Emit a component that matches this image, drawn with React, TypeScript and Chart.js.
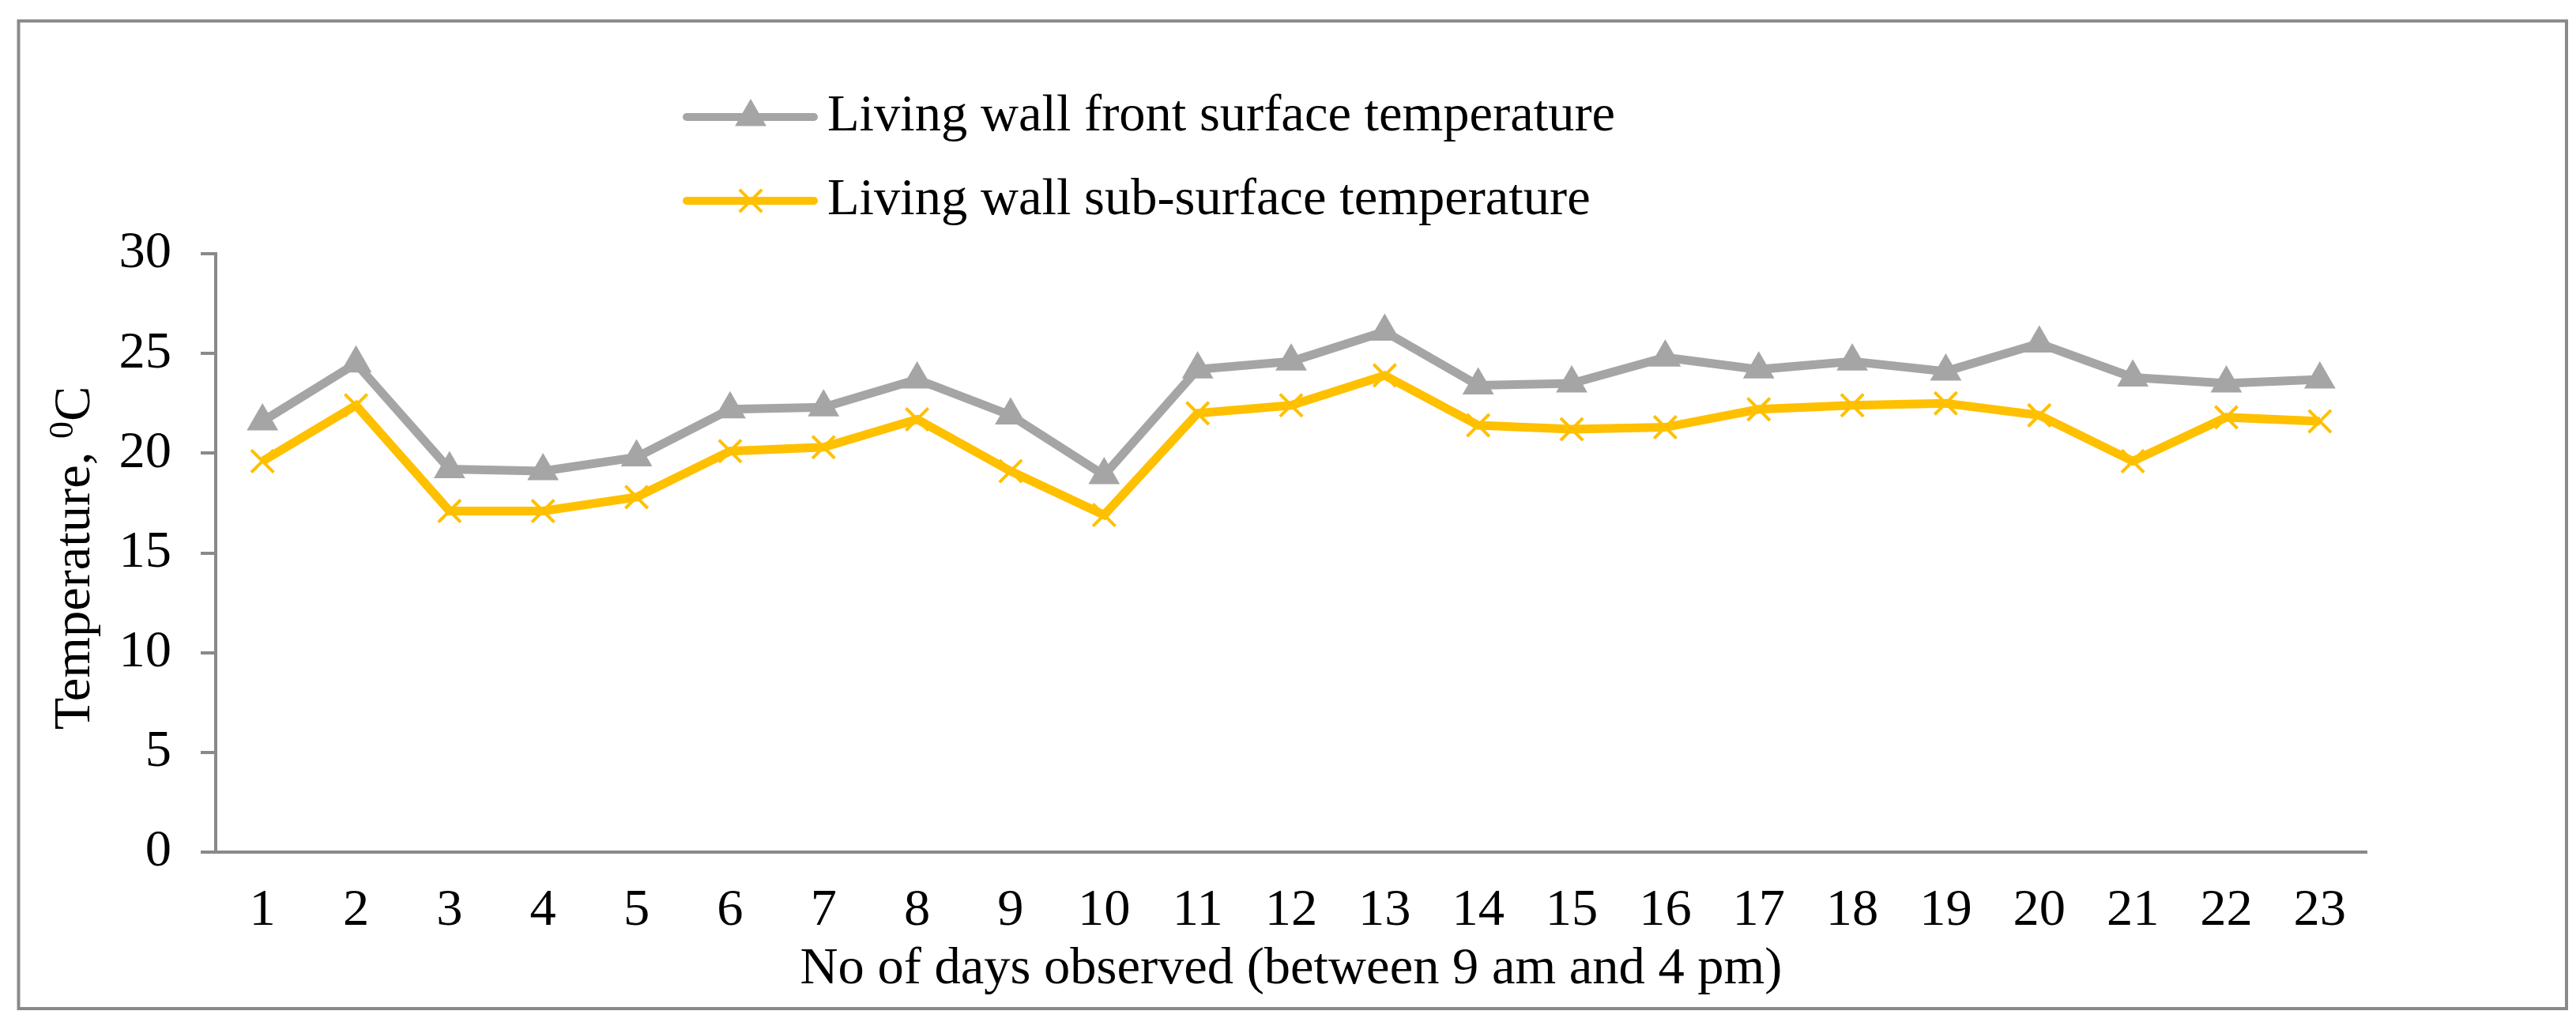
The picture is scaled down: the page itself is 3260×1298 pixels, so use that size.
import { useRef, useEffect } from "react";
import { Chart, registerables } from "chart.js";
import type { Plugin } from "chart.js";
import { drawPoint } from "chart.js/helpers";

Chart.register(...registerables);

// values
const days = [
  "1", "2", "3", "4", "5", "6", "7", "8", "9", "10", "11", "12",
  "13", "14", "15", "16", "17", "18", "19", "20", "21", "22", "23",
];
const frontSurface = [
  21.6, 24.5, 19.2, 19.1, 19.8, 22.2, 22.3, 23.7, 21.9, 18.9, 24.2, 24.6,
  26.1, 23.4, 23.5, 24.8, 24.2, 24.6, 24.1, 25.5, 23.8, 23.5, 23.7,
];
const subSurface = [
  19.6, 22.4, 17.1, 17.1, 17.8, 20.1, 20.3, 21.7, 19.1, 16.9, 22.0, 22.4,
  23.9, 21.4, 21.2, 21.3, 22.2, 22.4, 22.5, 21.9, 19.6, 21.8, 21.6,
];
const seriesNames = [
  "Living wall front surface temperature",
  "Living wall sub-surface temperature",
];
const yRange = [0, 30];
const yStep = 5;
const xTitle = "No of days observed (between 9 am and 4 pm)";
// "Temperature, ⁰C" with the 0 set as a superscript
const yTitleParts = ["Temperature, ", "0", "C"];

const FONT = "'Liberation Serif', 'Times New Roman', serif";
const FS = 66.5;
const axisGray = "#898989";

// stacked legend above the plot, line + marker like the office chart
const stackedLegend: Plugin<"line"> = {
  id: "stackedLegend",
  afterDraw(chart) {
    const ctx = chart.ctx;
    ctx.save();
    chart.data.datasets.forEach((ds: any, i) => {
      const y = 148 + i * 106;
      ctx.strokeStyle = ds.borderColor;
      ctx.lineWidth = 10;
      ctx.lineCap = "round";
      ctx.beginPath();
      ctx.moveTo(869, y);
      ctx.lineTo(1030, y);
      ctx.stroke();
      ctx.fillStyle = ds.pointBackgroundColor;
      ctx.strokeStyle = ds.pointBorderColor;
      ctx.lineWidth = ds.pointBorderWidth;
      ctx.lineCap = "butt";
      drawPoint(
        ctx,
        {
          pointStyle: ds.pointStyle,
          radius: ds.pointRadius,
          borderWidth: ds.pointBorderWidth,
          rotation: 0,
        } as any,
        950,
        y
      );
      ctx.fillStyle = "#000";
      ctx.font = `${FS}px ${FONT}`;
      ctx.textBaseline = "middle";
      ctx.textAlign = "left";
      ctx.fillText(ds.label, 1047, y);
    });
    ctx.restore();
  },
};

// rotated y title, drawn by hand so the 0 can be a real superscript
const yTitleLabel: Plugin<"line"> = {
  id: "yTitleLabel",
  afterDraw(chart) {
    const ctx = chart.ctx;
    const main = `${FS}px ${FONT}`;
    const sup = `44px ${FONT}`;
    ctx.save();
    ctx.translate(113, 706);
    ctx.rotate(-Math.PI / 2);
    ctx.fillStyle = "#000";
    ctx.textBaseline = "alphabetic";
    ctx.textAlign = "left";
    ctx.font = main;
    const w1 = ctx.measureText(yTitleParts[0]).width;
    const w3 = ctx.measureText(yTitleParts[2]).width;
    ctx.font = sup;
    const w2 = ctx.measureText(yTitleParts[1]).width;
    let x = -(w1 + w2 + w3) / 2;
    ctx.font = main;
    ctx.fillText(yTitleParts[0], x, 0);
    x += w1;
    ctx.font = sup;
    ctx.fillText(yTitleParts[1], x, -21);
    x += w2;
    ctx.font = main;
    ctx.fillText(yTitleParts[2], x, 0);
    ctx.restore();
  },
};

// grey outline round the whole figure
const outerFrame: Plugin<"line"> = {
  id: "outerFrame",
  beforeDraw(chart) {
    const ctx = chart.ctx;
    ctx.save();
    ctx.fillStyle = "#fff";
    ctx.fillRect(0, 0, chart.width, chart.height);
    ctx.strokeStyle = axisGray;
    ctx.lineWidth = 4;
    ctx.strokeRect(23.5, 26.5, 3224.5, 1249.5);
    ctx.restore();
  },
};

const TemperatureChart = () => {
  const chartRef = useRef<HTMLCanvasElement>(null);

  useEffect(() => {
    Chart.defaults.font.family = FONT;
    Chart.defaults.font.size = FS;
    Chart.defaults.color = "#000";

    const myChart = new Chart(chartRef.current!, {
      type: "line",
      data: {
        labels: days,
        datasets: [
          {
            label: seriesNames[0],
            data: frontSurface,
            borderColor: "#A5A5A5",
            backgroundColor: "#A5A5A5",
            borderWidth: 11,
            pointStyle: "triangle",
            pointRadius: 23,
            pointBackgroundColor: "#A5A5A5",
            pointBorderColor: "#A5A5A5",
            pointBorderWidth: 0,
            tension: 0,
          },
          {
            label: seriesNames[1],
            data: subSurface,
            borderColor: "#FFC000",
            backgroundColor: "#FFC000",
            borderWidth: 11,
            pointStyle: "crossRot",
            pointRadius: 20,
            pointBackgroundColor: "#FFC000",
            pointBorderColor: "#FFC000",
            pointBorderWidth: 4,
            tension: 0,
          },
        ],
      },
      options: {
        animation: false,
        responsive: false,
        devicePixelRatio: 1,
        layout: { padding: { left: 45, right: 265, top: 321, bottom: 32 } },
        plugins: {
          legend: { display: false },
          tooltip: { enabled: false },
        },
        scales: {
          x: {
            type: "category",
            offset: true,
            grid: { display: false, drawTicks: false },
            border: { display: true, color: axisGray, width: 4 },
            ticks: { padding: 35, maxRotation: 0, autoSkip: false },
            title: {
              display: true,
              text: xTitle,
              padding: { top: 0, bottom: 0 },
            },
            afterFit: (s) => {
              s.height = 188;
            },
          },
          y: {
            min: yRange[0],
            max: yRange[1],
            grid: {
              display: true,
              drawOnChartArea: false,
              drawTicks: true,
              tickLength: 19,
              color: axisGray,
              lineWidth: 4,
            },
            border: { display: true, color: axisGray, width: 4 },
            ticks: { stepSize: yStep, padding: 37 },
            title: { display: false },
            afterFit: (s) => {
              s.width = 228;
            },
          },
        },
      },
      plugins: [outerFrame, stackedLegend, yTitleLabel],
    });

    return () => myChart.destroy();
  }, []);

  return (
    <div style={{ position: "absolute", left: 0, top: 0, width: 3260, height: 1298 }}>
      <canvas ref={chartRef} width={3260} height={1298}></canvas>
    </div>
  );
};

export default function App() {
  return <TemperatureChart />;
}
